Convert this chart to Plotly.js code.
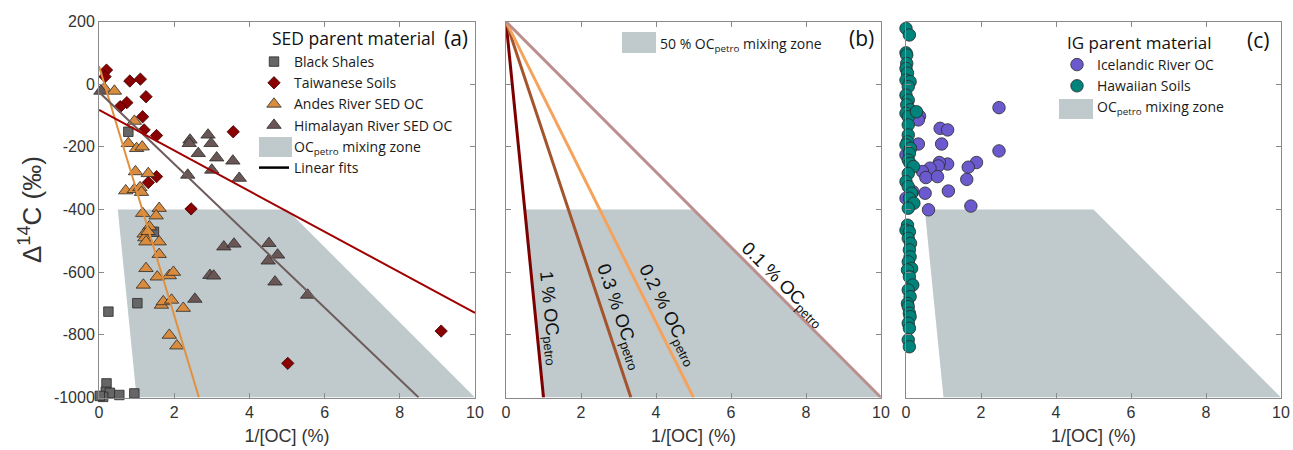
<!DOCTYPE html>
<html>
<head>
<meta charset="utf-8">
<script src="https://cdn.plot.ly/plotly-3.0.1.min.js"></script>
<style>html,body{margin:0;padding:0;background:#fff;}#chart{width:1293px;height:450px;}</style>
</head>
<body>
<div id="chart"></div>
<script>
// ---------- data ----------
// Panel (a): SED parent material
var shalesX = [0.78, 1.46, 1.02, 0.25, 0.20, 0.18, 0.29, 0.11, 0.02, 0.54, 0.94];
var shalesY = [-152, -471, -699, -726, -955, -982, -985, -998, -995, -992, -987];

var taiwanX = [0.20, 0.16, 0.82, 1.10, 1.25, 0.74, 0.56, 1.16, 1.20, 1.53, 3.57, 1.53, 1.31, 2.45, 9.10, 5.02];
var taiwanY = [45, 24, 10, 16, -40, -59, -72, -104, -146, -164, -152, -295, -314, -398, -788, -891];

var andesX = [0.14, 0.41, 0.94, 0.78, 1.00, 1.15, 0.97, 1.31, 0.71, 0.94, 1.09, 1.13,
              1.60, 1.16, 1.52, 1.34, 1.20, 1.22, 1.30, 1.25, 1.60, 1.60, 1.25, 1.55,
              1.87, 1.98, 1.18, 1.66, 1.71, 1.93, 2.24, 1.87, 2.07];
var andesY = [-13, -22, -118, -189, -205, -200, -279, -285, -340, -336, -330, -345,
              -396, -412, -420, -455, -478, -490, -470, -503, -503, -543, -588, -615,
              -611, -600, -641, -705, -694, -689, -715, -801, -835];

var himalX = [0.05, 2.42, 2.90, 2.40, 2.98, 2.64, 3.13, 3.56, 3.00, 3.73, 2.36,
              3.32, 3.59, 4.52, 4.75, 4.50, 4.68, 2.95, 3.05, 2.55, 5.55];
var himalY = [-22, -178, -162, -189, -189, -221, -235, -245, -274, -300, -290,
              -519, -510, -508, -545, -564, -631, -610, -612, -686, -673];

// linear fits: [intercept at x=0, slope]
var fitAndes  = [58, -398];
var fitHimal  = [-25, -114.7];
var fitTaiwan = [-82, -64.8];

// OCpetro mixing zone polygon (same in all panels)
var zoneX = [0.5, 5, 10, 1];
var zoneY = [-400, -400, -1000, -1000];

// Panel (b): mixing lines from modern end-member to petrogenic end-member
var mixLabels = ['1 % OC<sub>petro</sub>', '0.3 % OC<sub>petro</sub>', '0.2 % OC<sub>petro</sub>', '0.1 % OC<sub>petro</sub>'];
var mixStartX = [0, 0, 0, 0];
var mixStartY = [200, 200, 200, 200];
var mixEndX   = [1, 3.33, 5, 10];
var mixEndY   = [-1000, -1000, -1000, -1000];

// Panel (c): IG parent material
var icelandX = [0.36, 0.33, 0.91, 1.11, 2.48, 0.95, 0.33, 2.48, 0.00, 1.88, 1.66, 1.11, 0.89,
                0.86, 0.64, 0.44, 0.53, 0.84, 1.62, 0.51, 1.13, 0.00, 1.73, 0.60, 0.18];
var icelandY = [-102, -114, -141, -146, -75, -191, -191, -213, -226, -250, -265, -255, -250,
                -261, -268, -279, -298, -295, -304, -348, -341, -364, -389, -401, -343];

var hawaiiX = [0.00, 0.09, 0.00, 0.02, 0.02, 0.00, 0.04, 0.00, 0.11, 0.06, 0.00, 0.06, 0.02, 0.11,
               0.00, 0.06, 0.06, 0.06, 0.04, 0.00, 0.12, 0.09, 0.06, 0.11, 0.20, 0.06, 0.00, 0.06,
               0.15, 0.09, 0.21, 0.06, 0.04, 0.00, 0.09, 0.06, 0.12, 0.09, 0.11, 0.06, 0.15, 0.04,
               0.09, 0.18, 0.06, 0.11, 0.04, 0.06, 0.09, 0.11, 0.06, 0.09, 0.06, 0.09, 0.28];
var hawaiiY = [178, 157, 100, 93, 66, 50, 35, 13, 8, -8, -35, -51, -66, -82,
               -93, -104, -130, -162, -184, -194, -205, -221, -242, -253, -263, -285, -311, -327,
               -348, -364, -380, -396, -450, -466, -471, -492, -508, -529, -551, -567, -588, -593,
               -615, -641, -657, -678, -700, -710, -731, -742, -763, -779, -816, -838, -88];

// axis ticks
var xTicks = [0, 2, 4, 6, 8, 10];
var yTicks = [200, 0, -200, -400, -600, -800, -1000];
var yTickText = ['200', '0', '-200', '-400', '-600', '-800', '-1000'];

// ---------- helpers ----------
function fitLine(fit, xmax) {
  var x1 = (-1000 - fit[0]) / fit[1];
  if (x1 > xmax) x1 = xmax;
  return {x: [0, x1], y: [fit[0], fit[0] + fit[1] * x1]};
}
var W = 1293, H = 450;
function px(v) { return v / W; }
function py(v) { return 1 - v / H; }

var zoneColor = '#c0cacd';
var edge = {color: '#2a2a2a', width: 0.8};
var legFont = {family: 'Open Sans, Lato, sans-serif', size: 14, color: '#1a1a1a'};

var traces = [];
// Panel a
traces.push({x: zoneX, y: zoneY, xaxis: 'x', yaxis: 'y', type: 'scatter', mode: 'lines', fill: 'toself',
  fillcolor: zoneColor, line: {width: 0, color: zoneColor}, name: 'OC<sub>petro</sub> mixing zone',
  legend: 'legend', legendrank: 5, hoverinfo: 'skip'});
traces.push({x: shalesX, y: shalesY, xaxis: 'x', yaxis: 'y', type: 'scatter', mode: 'markers', name: 'Black Shales',
  marker: {symbol: 'square', size: 9.5, color: '#666666', line: edge}, cliponaxis: false, legend: 'legend', legendrank: 1});
traces.push({x: taiwanX, y: taiwanY, xaxis: 'x', yaxis: 'y', type: 'scatter', mode: 'markers', name: 'Taiwanese Soils',
  marker: {symbol: 'diamond', size: 9.5, color: '#8b0000', line: {color: '#3a0000', width: 0.8}}, cliponaxis: false, legend: 'legend', legendrank: 2});
traces.push({x: andesX, y: andesY, xaxis: 'x', yaxis: 'y', type: 'scatter', mode: 'markers', name: 'Andes River SED OC',
  marker: {symbol: 'triangle-up', size: 12.5, color: '#d98b3e', line: edge}, cliponaxis: false, legend: 'legend', legendrank: 3});
traces.push({x: himalX, y: himalY, xaxis: 'x', yaxis: 'y', type: 'scatter', mode: 'markers', name: 'Himalayan River SED OC',
  marker: {symbol: 'triangle-up', size: 12.5, color: '#6b5656', line: edge}, cliponaxis: false, legend: 'legend', legendrank: 4});
var fa = fitLine(fitAndes, 10), fh = fitLine(fitHimal, 10), ft = fitLine(fitTaiwan, 10);
traces.push({x: fa.x, y: fa.y, xaxis: 'x', yaxis: 'y', mode: 'lines', line: {color: '#e0913f', width: 2}, showlegend: false, hoverinfo: 'skip'});
traces.push({x: fh.x, y: fh.y, xaxis: 'x', yaxis: 'y', mode: 'lines', line: {color: '#6e5c5c', width: 2}, showlegend: false, hoverinfo: 'skip'});
traces.push({x: ft.x, y: ft.y, xaxis: 'x', yaxis: 'y', mode: 'lines', line: {color: '#a00000', width: 2}, showlegend: false, hoverinfo: 'skip'});
traces.push({x: [null], y: [null], xaxis: 'x', yaxis: 'y', mode: 'lines', line: {color: '#000', width: 2.5},
  name: 'Linear fits', legend: 'legend', legendrank: 6});

// Panel b
traces.push({x: zoneX, y: zoneY, xaxis: 'x2', yaxis: 'y2', type: 'scatter', mode: 'lines', fill: 'toself',
  fillcolor: zoneColor, line: {width: 0, color: zoneColor}, name: '50 % OC<sub>petro</sub> mixing zone',
  legend: 'legend2', hoverinfo: 'skip'});
var mixColors = ['#7c0000', '#a3542c', '#f4a25c', '#bc8f8f'];
for (var i = 0; i < mixEndX.length; i++) {
  traces.push({x: [mixStartX[i], mixEndX[i]], y: [mixStartY[i], mixEndY[i]], xaxis: 'x2', yaxis: 'y2', mode: 'lines',
    line: {color: mixColors[i], width: 3}, showlegend: false, hoverinfo: 'skip', cliponaxis: false});
}

// Panel c
traces.push({x: zoneX, y: zoneY, xaxis: 'x3', yaxis: 'y3', type: 'scatter', mode: 'lines', fill: 'toself',
  fillcolor: zoneColor, line: {width: 0, color: zoneColor}, name: 'OC<sub>petro</sub> mixing zone',
  legend: 'legend3', legendrank: 3, hoverinfo: 'skip'});
traces.push({x: icelandX, y: icelandY, xaxis: 'x3', yaxis: 'y3', type: 'scatter', mode: 'markers', name: 'Icelandic River OC',
  marker: {symbol: 'circle', size: 12.5, color: '#6a5acd', line: edge}, cliponaxis: false, legend: 'legend3', legendrank: 1});
traces.push({x: hawaiiX, y: hawaiiY, xaxis: 'x3', yaxis: 'y3', type: 'scatter', mode: 'markers', name: 'Hawaiian Soils',
  marker: {symbol: 'circle', size: 12.5, color: '#00837b', line: edge}, cliponaxis: false, legend: 'legend3', legendrank: 2});

// ---------- axes ----------
var tickFont = {family: 'Liberation Sans, Arial, sans-serif', size: 16, color: '#333'};
function xax(domain) {
  return {domain: domain, range: [0, 10], tickvals: xTicks, ticktext: xTicks.map(String), ticks: 'inside', ticklen: 5,
    tickcolor: '#8a8a8a', showline: true, linecolor: '#8a8a8a', linewidth: 1, mirror: 'ticks', showgrid: false,
    zeroline: false, tickfont: tickFont, automargin: false,
    title: {text: '1/[OC] (%)', font: {family: 'Liberation Sans, Arial, sans-serif', size: 18, color: '#333'}, standoff: 9}};
}
function yax(domain, anchor, labels) {
  return {domain: domain, range: [-1000, 200], tickvals: yTicks, ticktext: yTickText, ticks: 'inside', ticklen: 5,
    tickcolor: '#8a8a8a', showline: true, linecolor: '#8a8a8a', linewidth: 1, mirror: 'ticks', showgrid: false,
    zeroline: false, tickfont: tickFont, showticklabels: labels, anchor: anchor, automargin: false};
}
var yDom = [py(397.5), py(21.5)];

var ann = [];
ann.push({xref: 'paper', yref: 'paper', x: px(30), y: py(210), text: 'Δ<sup>14</sup>C (‰)', textangle: -90, showarrow: false,
  font: {family: 'Liberation Sans, Arial, sans-serif', size: 26, color: '#333'}, xanchor: 'center', yanchor: 'middle'});
ann.push({xref: 'paper', yref: 'paper', x: px(270), y: py(38), text: 'SED parent material', showarrow: false,
  font: {family: 'Open Sans, sans-serif', size: 17.5, color: '#111'}, xanchor: 'left', yanchor: 'middle'});
ann.push({xref: 'paper', yref: 'paper', x: px(456), y: py(38), text: '(a)', showarrow: false,
  font: {family: 'Open Sans, sans-serif', size: 21, color: '#111'}, xanchor: 'center', yanchor: 'middle'});
ann.push({xref: 'paper', yref: 'paper', x: px(861), y: py(38), text: '(b)', showarrow: false,
  font: {family: 'Open Sans, sans-serif', size: 21, color: '#111'}, xanchor: 'center', yanchor: 'middle'});
ann.push({xref: 'paper', yref: 'paper', x: px(1065), y: py(42), text: 'IG parent material', showarrow: false,
  font: {family: 'Open Sans, sans-serif', size: 17, color: '#111'}, xanchor: 'left', yanchor: 'middle'});
ann.push({xref: 'paper', yref: 'paper', x: px(1258), y: py(40), text: '(c)', showarrow: false,
  font: {family: 'Open Sans, sans-serif', size: 21, color: '#111'}, xanchor: 'center', yanchor: 'middle'});
// mixing-line labels in panel b
var labX = [1.17, 3.04, 4.32, 7.39];
var labY = [-746, -742, -737, -641];
var labAng = [84, 71, 63, 45];
for (var j = 0; j < mixLabels.length; j++) {
  ann.push({xref: 'x2', yref: 'y2', x: labX[j], y: labY[j], text: mixLabels[j], textangle: labAng[j], showarrow: false,
    font: {family: 'Liberation Sans, Arial, sans-serif', size: 18.5, color: '#111'}, xanchor: 'center', yanchor: 'middle'});
}

// legend icons for the mixing zone (drawn as rectangles)
var shapes = [
  {type: 'rect', xref: 'paper', yref: 'paper', x0: px(259), x1: px(292), y0: py(157), y1: py(137), fillcolor: zoneColor, line: {width: 0}, layer: 'above'},
  {type: 'rect', xref: 'paper', yref: 'paper', x0: px(622), x1: px(656), y0: py(53), y1: py(32), fillcolor: zoneColor, line: {width: 0}, layer: 'above'},
  {type: 'rect', xref: 'paper', yref: 'paper', x0: px(1059), x1: px(1093), y0: py(119), y1: py(99), fillcolor: zoneColor, line: {width: 0}, layer: 'above'}
];

var legBase = {bgcolor: 'rgba(0,0,0,0)', borderwidth: 0, font: legFont, xanchor: 'left', yanchor: 'top', tracegroupgap: 0, itemclick: false};
var layout = {
  width: W, height: H, margin: {l: 0, r: 0, t: 0, b: 0}, paper_bgcolor: '#fff', plot_bgcolor: 'rgba(0,0,0,0)',
  showlegend: true,
  xaxis: xax([px(99), px(475)]), yaxis: yax(yDom, 'x', true),
  xaxis2: xax([px(506), px(881)]), yaxis2: yax(yDom, 'x2', false),
  xaxis3: xax([px(906), px(1281)]), yaxis3: yax(yDom, 'x3', false),
  legend: Object.assign({}, legBase, {x: px(254), y: py(46)}),
  legend2: Object.assign({}, legBase, {x: px(620), y: py(28)}),
  legend3: Object.assign({}, legBase, {x: px(1057), y: py(49)}),
  annotations: ann, shapes: shapes
};
layout.xaxis.anchor = 'y'; layout.xaxis2.anchor = 'y2'; layout.xaxis3.anchor = 'y3';

Plotly.newPlot('chart', traces, layout, {staticPlot: true, displayModeBar: false});
</script>
</body>
</html>
